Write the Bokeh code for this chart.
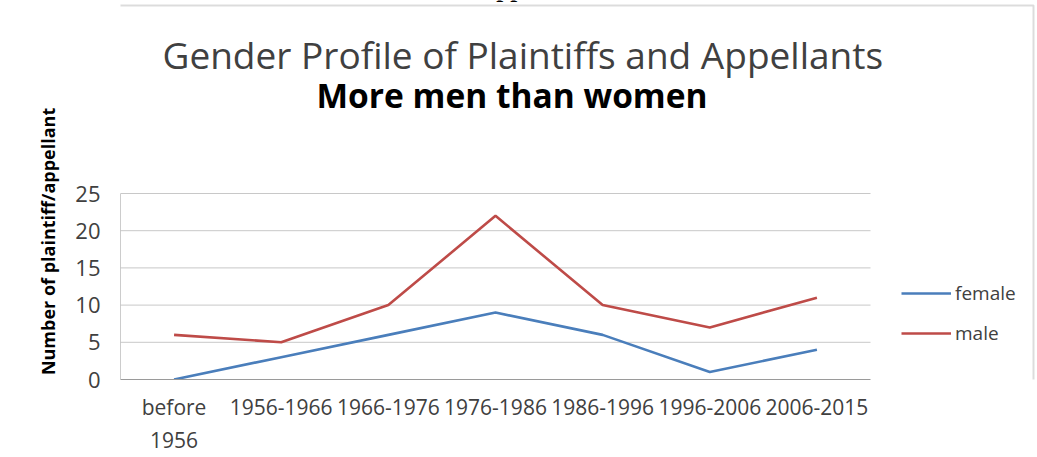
from bokeh.plotting import figure
from bokeh.models import Label, Legend, LegendItem, FixedTicker, Range1d, BoxAnnotation
from bokeh.embed import file_html
from bokeh.resources import INLINE

categories = ["before\n1956", "1956-1966", "1966-1976", "1976-1986", "1986-1996", "1996-2006", "2006-2015"]
female = [0, 3, 6, 9, 6, 1, 4]
male = [6, 5, 10, 22, 10, 7, 11]
y_ticks = [0, 5, 10, 15, 20, 25]

FONT = "Open Sans"
W, H = 1037, 457

# layout (pixels): plot area x 120..870, y 193..379 ; frame extends to top/right edges
FRAME_L, PLOT_R, PLOT_T, FRAME_B = 120, 870, 193, 379
n = len(categories)
xs = list(range(n))
x_end = -0.5 + n * (W - FRAME_L) / (PLOT_R - FRAME_L)
y_max = y_ticks[-1]
y_end = y_max * FRAME_B / (FRAME_B - PLOT_T)

p = figure(width=W, height=H, x_range=Range1d(-0.5, x_end), y_range=Range1d(0, y_end),
           output_backend="svg", toolbar_location=None,
           min_border_left=FRAME_L, min_border_right=0, min_border_top=0, min_border_bottom=H - FRAME_B)
p.outline_line_color = None
p.background_fill_color = "white"
p.border_fill_color = "white"
p.xgrid.grid_line_color = None
p.ygrid.grid_line_color = None

# horizontal gridlines over the plot area only
grid_vals = [t for t in y_ticks if t > 0]
p.segment(x0=[-0.5] * len(grid_vals), x1=[n - 0.5] * len(grid_vals), y0=grid_vals, y1=grid_vals,
          line_color="#C8C8C8", line_width=1)
# left axis line of the plot area
p.segment(x0=[-0.5], x1=[-0.5], y0=[0], y1=[y_max], line_color="#9A9A9A", line_width=1)

r_f = p.line(xs, female, line_color="#4A7EBB", line_width=2.6)
r_m = p.line(xs, male, line_color="#BE4B48", line_width=2.6)

p.xaxis.ticker = FixedTicker(ticks=xs)
p.xaxis.major_label_overrides = {i: c for i, c in enumerate(categories)}
p.xaxis.bounds = (-0.5, n - 0.5)
p.yaxis.ticker = FixedTicker(ticks=y_ticks)
p.yaxis.bounds = (0, y_max)

for ax in (p.xaxis, p.yaxis):
    ax.major_tick_line_color = None
    ax.minor_tick_line_color = None
    ax.major_label_text_font = FONT
    ax.major_label_text_color = "#404040"
p.xaxis.axis_line_color = "#9A9A9A"
p.yaxis.axis_line_color = None
p.xaxis.major_label_text_font_size = "21px"
p.yaxis.major_label_text_font_size = "22px"
p.yaxis.major_label_standoff = 14
p.xaxis.major_label_standoff = 7

# trailing no-break spaces move the (frame-centred) label down beside the plot area
p.yaxis.axis_label = "Number of plaintiff/appellant" + "\u00a0" * 22
p.yaxis.axis_label_text_font = FONT
p.yaxis.axis_label_text_font_size = "18px"
p.yaxis.axis_label_text_font_style = "bold"
p.yaxis.axis_label_text_color = "black"
p.yaxis.axis_label_standoff = 12

legend = Legend(items=[LegendItem(label="female", renderers=[r_f]),
                       LegendItem(label="male", renderers=[r_m])],
                location=(781, 33), orientation="vertical",
                label_text_font=FONT, label_text_font_size="19px", label_text_color="#404040",
                glyph_width=50, glyph_height=20, spacing=14, label_standoff=4,
                border_line_color=None, background_fill_alpha=0)
p.add_layout(legend, "center")

p.add_layout(BoxAnnotation(left=7, right=1033, top=5, bottom=480,
                           left_units="canvas", right_units="canvas",
                           top_units="canvas", bottom_units="canvas",
                           fill_alpha=0, line_color="#8A8A8A", line_width=2))

p.add_layout(Label(x=162, y=54, x_units="canvas", y_units="canvas",
                   text="Gender Profile of Plaintiffs and Appellants",
                   text_font=FONT, text_font_size="37px", text_color="#404040",
                   text_align="left", text_baseline="alphabetic"))
p.add_layout(Label(x=316, y=94, x_units="canvas", y_units="canvas",
                   text="More men than women",
                   text_font=FONT, text_font_size="33.5px", text_font_style="bold", text_color="black",
                   text_align="left", text_baseline="alphabetic"))
p.add_layout(Label(x=10, y=-12, x_units="canvas", y_units="canvas",
                   text="Diagram 1: Gender Profile of Plaintiffs and Appellants: More men than women",
                   text_font="Liberation Serif", text_font_size="25px", text_font_style="bold", text_color="black",
                   text_align="left", text_baseline="alphabetic"))

open("out.html", "w").write(file_html(p, INLINE))
